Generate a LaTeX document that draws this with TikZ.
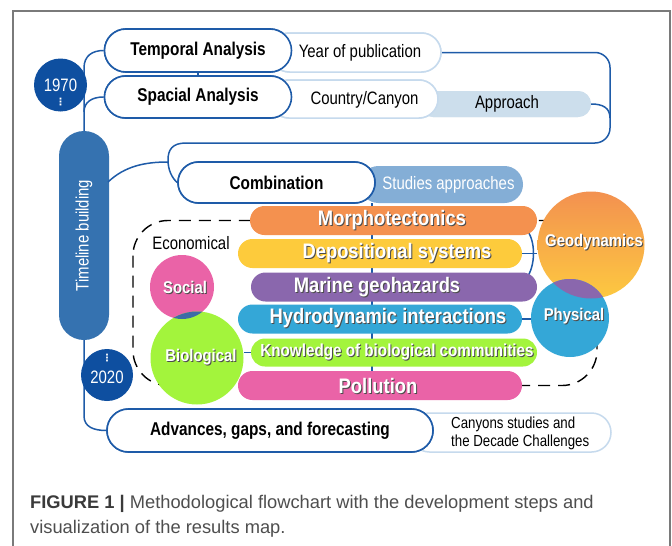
\documentclass[tikz,border=0pt]{standalone}
\usepackage{fontspec}
\setmainfont{Liberation Sans}
\newfontfamily\cnd[FakeStretch=0.83]{Liberation Sans}
\newfontfamily\barfont[FakeStretch=0.875]{Liberation Sans}
\newfontfamily\symfont{DejaVu Sans}
\usetikzlibrary{shapes.misc}

\definecolor{lineblue}{HTML}{1E5BA8}
\definecolor{lightblue}{HTML}{C6DAED}
\definecolor{approachfill}{HTML}{CCDEEC}
\definecolor{studiesfill}{HTML}{84AED6}
\definecolor{trunkfill}{HTML}{3572B0}
\definecolor{yeardisc}{HTML}{0E4FA0}
\definecolor{framegray}{HTML}{7A7A7A}
\definecolor{orangebar}{HTML}{F4914F}
\definecolor{yellowbar}{HTML}{FDCB3C}
\definecolor{purplebar}{HTML}{8A67AD}
\definecolor{cyanbar}{HTML}{34A7D7}
\definecolor{limebar}{HTML}{A3F43C}
\definecolor{pinkbar}{HTML}{EA63A7}
\definecolor{geotop}{HTML}{F39150}
\definecolor{geobot}{HTML}{FDC940}
\definecolor{overlapblue}{HTML}{3D6BA6}
\definecolor{captiondark}{HTML}{3A3A3A}
\definecolor{captiongray}{HTML}{4E4E4E}

% white lettering with a dark drop shadow
\newcommand\shadowed[1]{\leavevmode\rlap{\kern1pt\raisebox{-1pt}{\textcolor{black!70}{#1}}}#1}

\begin{document}
\begin{tikzpicture}[x=1pt,y=-1pt,
  conn/.style={draw=lineblue, line width=1.5pt},
  pill/.style={shape=rounded rectangle, inner sep=0pt},
  darkpill/.style={pill, draw=lineblue, line width=1.6pt, fill=white,
    font=\cnd\bfseries\fontsize{18.5}{18.5}\selectfont},
  lightpill/.style={pill, draw=lightblue, line width=1.5pt, fill=white},
  plain/.style={inner sep=0pt, font=\cnd\fontsize{18}{18}\selectfont},
  bar/.style={pill, minimum height=29pt},
  bartext/.style={inner sep=0pt, text=white, font=\barfont\bfseries\fontsize{21}{21}\selectfont},
  disc/.style={circle, inner sep=0pt},
  disctext/.style={inner sep=0pt, text=white, font=\barfont\bfseries\fontsize{17}{17}\selectfont},
  dots/.style={inner sep=0pt, text=white, font=\symfont\bfseries\fontsize{10}{10}\selectfont}
]
\useasboundingbox (0,0) rectangle (672,546);
\fill[white] (0,0) rectangle (672,546);
\draw[framegray, line width=1.2pt] (13,546) -- (13,11) -- (670,11) -- (670,546);

% pale pills behind the main steps
\node[lightpill, minimum width=171pt, minimum height=39pt] (year) at (355.5,52.5) {};
\node[pill, fill=approachfill, minimum width=171pt, minimum height=26pt] (approach) at (505.5,104) {};
\node[lightpill, minimum width=168pt, minimum height=38pt] (country) at (354,99) {};
\node[lightpill, minimum width=201pt, minimum height=39pt] (canyons) at (510.5,432.5) {};
\node[pill, fill=studiesfill, minimum width=163pt, minimum height=37pt] (studies) at (441.5,184.5) {};

% main steps
\node[darkpill, minimum width=187pt, minimum height=43pt] (temporal) at (198,50.5) {Temporal Analysis};
\node[darkpill, minimum width=187pt, minimum height=42pt] (spacial) at (198,97) {Spacial Analysis};
\node[darkpill, minimum width=197pt, minimum height=41pt] (combination) at (276.5,182.5) {Combination};
\node[darkpill, minimum width=326pt, minimum height=43pt] (advances) at (270,430.5) {Advances, gaps, and forecasting};

% timeline trunk
\node[pill, fill=trunkfill, minimum width=209pt, minimum height=50pt, rotate=90,
  text=white, font=\cnd\fontsize{18}{18}\selectfont] (timeline) at (84,235.5) {Timeline building};
\coordinate (trunkTop) at (84,131);
\coordinate (trunkSide) at (108,182);

% connectors
\draw[conn] (temporal.south) -- (spacial.north);
\draw[conn] (temporal.west) .. controls (92,50.5) and (84,56) .. (84,68) -- (trunkTop);
\draw[conn] (spacial.west) .. controls (92,97) and (84,102) .. (84,112);
\draw[conn] (timeline.west) -- (84,416) .. controls (84,427) and (94,430.5) .. (advances.west);
\draw[conn, rounded corners=15pt] (year.east) -- (610,52.5) -- (610,143) -- (186,143);
\draw[conn] (186,143) .. controls (172,143) and (168,150) .. (168,160)
  .. controls (168,170) and (172,178) .. (combination.west);
\draw[conn] (approach.east) .. controls (603,104) and (610,108) .. (610,118);
\draw[conn] (trunkSide) .. controls (125,166) and (145,162) .. (168,162);

% redraw the pills that sit on top of the connectors
\node[lightpill, minimum width=171pt, minimum height=39pt] (yearTop) at (355.5,52.5) {};
\node[pill, fill=approachfill, minimum width=171pt, minimum height=26pt] (approachTop) at (505.5,104) {};
\node[lightpill, minimum width=168pt, minimum height=38pt] (countryTop) at (354,99) {};
\node[darkpill, minimum width=187pt, minimum height=43pt] (temporalTop) at (198,50.5) {Temporal Analysis};
\node[darkpill, minimum width=187pt, minimum height=42pt] (spacialTop) at (198,97) {Spacial Analysis};
\node[darkpill, minimum width=197pt, minimum height=41pt] (combinationTop) at (276.5,182.5) {Combination};
\node[darkpill, minimum width=326pt, minimum height=43pt] (advancesTop) at (270,430.5) {Advances, gaps, and forecasting};

% labels of the pale pills
\node[plain] (yearT) at (360,52.5) {Year of publication};
\node[plain] (countryT) at (364.5,99.5) {Country/Canyon};
\node[plain] (approachT) at (507,104) {Approach};
\node[plain, text=white] (studiesT) at (448.5,185) {Studies approaches};
\node[inner sep=0pt, anchor=west, align=left, font=\cnd\fontsize{16}{18}\selectfont] (canyonsT) at (451,433)
  {Canyons studies and\\the Decade Challenges};

% year discs
\node[disc, fill=yeardisc, minimum size=53pt, text=white, font=\cnd\fontsize{18}{18}\selectfont] (y1970) at (60.5,85) {1970};
\node[dots] (y1970dots) at (60.5,102.5) {⋮};
\node[disc, fill=yeardisc, minimum size=52pt] (y2020) at (107,375) {};
\node[inner sep=0pt, text=white, font=\cnd\fontsize{18}{18}\selectfont] (y2020T) at (107,377) {2020};
\node[dots] (y2020dots) at (107,358.5) {⋮};

% dashed frame around the themes
\draw[black, line width=1.4pt, dash pattern=on 12pt off 8pt, rounded corners=35pt]
  (133,220.5) rectangle (597,385.5);

% vertical link through the themes
\coordinate (spineTop) at (372,203);
\coordinate (spineBot) at (372,372);
\draw[lineblue, line width=1.2pt] (spineTop) -- (spineBot);

% bracket joining the geodynamic themes
\coordinate (brA) at (526,229);
\coordinate (brB) at (526,279);
\draw[conn] (brA) .. controls (536,240) and (536,266) .. (brB);

% theme bars
\node[bar, fill=orangebar, minimum width=287pt] (morph) at (393.5,220.5) {};
\node[bar, fill=yellowbar, minimum width=284pt] (depos) at (380,253.5) {};
\node[bar, fill=purplebar, minimum width=286pt] (marine) at (394,287) {};
\node[bar, fill=cyanbar, minimum width=284pt] (hydro) at (380,319) {};
\node[bar, fill=limebar, minimum width=286pt, minimum height=28pt] (knowl) at (394,352.5) {};
\node[bar, fill=pinkbar, minimum width=284pt] (pollu) at (380,385.5) {};

\node[bartext] (morphT) at (392,221) {\shadowed{Morphotectonics}};
\node[bartext] (deposT) at (397,254) {\shadowed{Depositional systems}};
\node[bartext] (marineT) at (377,287.5) {\shadowed{Marine geohazards}};
\node[bartext] (hydroT) at (388,319) {\shadowed{Hydrodynamic interactions}};
\node[bartext, font=\barfont\bfseries\fontsize{17.4}{17.4}\selectfont] (knowlT) at (397,352.5) {\shadowed{Knowledge of biological communities}};
\node[bartext] (polluT) at (378,386) {\shadowed{Pollution}};

% group circles
\node[disc, minimum size=107pt, top color=geotop, bottom color=geobot] (geo) at (591,245) {};
\node[disc, fill=cyanbar, minimum size=78pt] (phys) at (570,318) {};
\begin{scope}
  \clip (591,245) circle[radius=53.5pt];
  \fill[purplebar] (570,318) circle[radius=39pt];
\end{scope}
\node[disc, fill=pinkbar, minimum size=64pt] (social) at (182,287) {};
\node[disc, fill=limebar, minimum size=93pt] (bio) at (197,358) {};
\begin{scope}
  \clip (182,287) circle[radius=32pt];
  \fill[overlapblue] (197,358) circle[radius=46.5pt];
\end{scope}

\draw[conn] (depos.east) -- (depos.east -| geo.west);
\draw[conn] (hydro.east) -- (hydro.east -| phys.west);
\draw[conn] (knowl.west) -- (knowl.west -| bio.east);

\node[disctext] (geoT) at (594,243) {\shadowed{Geodynamics}};
\node[disctext] (physT) at (574,316.5) {\shadowed{Physical}};
\node[disctext] (socialT) at (185,287.5) {\shadowed{Social}};
\node[disctext] (bioT) at (201,357.5) {\shadowed{Biological}};
\node[plain] (econT) at (191,243) {Economical};

% caption
\node[inner sep=0pt, anchor=base west, font=\fontsize{18.3}{18.3}\selectfont] (cap1) at (30,508)
  {\textcolor{captiondark}{\bfseries FIGURE 1 |} \textcolor{captiongray}{Methodological flowchart with the development steps and}};
\node[inner sep=0pt, anchor=base west, font=\fontsize{18.3}{18.3}\selectfont, text=captiongray] (cap2) at (30,533)
  {visualization of the results map.};
\end{tikzpicture}
\end{document}
